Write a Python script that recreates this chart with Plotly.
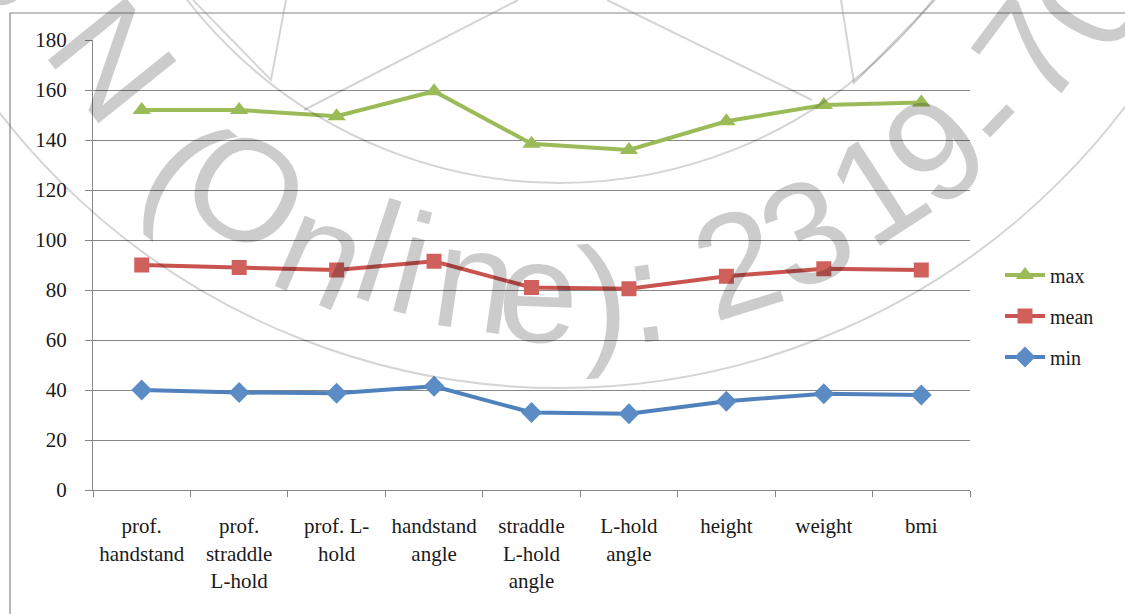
import math
import plotly.graph_objects as go

categories = ["prof.<br>handstand", "prof.<br>straddle<br>L-hold", "prof. L-<br>hold",
              "handstand<br>angle", "straddle<br>L-hold<br>angle", "L-hold<br>angle",
              "height", "weight", "bmi"]
max_vals = [152, 152, 149.5, 159.5, 138.5, 136, 147.5, 154, 155]
mean_vals = [90, 89, 88, 91.5, 81, 80.5, 85.5, 88.5, 88]
min_vals = [40, 39, 38.7, 41.5, 31, 30.5, 35.5, 38.5, 38]
y_ticks = [0, 20, 40, 60, 80, 100, 120, 140, 160, 180]

W, H = 1125, 614
L, R, T, B = 93, 155, 40, 124
PW, PH = W - L - R, H - T - B


def px(x):
    return (x - L) / PW


def py(y):
    return (H - B - y) / PH


fig = go.Figure()
fig.add_trace(go.Scatter(x=categories, y=max_vals, name="max", mode="lines+markers",
                         line=dict(color="#9BBB59", width=4), legendgroup="a",
                         marker=dict(symbol="triangle-up", size=16, color="#9BBB59")))
fig.add_trace(go.Scatter(x=categories, y=mean_vals, name="mean", mode="lines+markers",
                         line=dict(color="#C9534F", width=4), legendgroup="b",
                         marker=dict(symbol="square", size=15, color="#D0605C")))
fig.add_trace(go.Scatter(x=categories, y=min_vals, name="min", mode="lines+markers",
                         line=dict(color="#4F81BD", width=4), legendgroup="c",
                         marker=dict(symbol="diamond", size=16, color="#5B8CC6")))

axis_gray = "#868686"
font_serif = "Liberation Serif"

# watermark (seal) glyphs placed along an arc
wm_glyphs = ["S", "N", "(", "O", "n", "l", "i", "n", "e", ")", ":", "2", "3", "1", "9", "-", "7", "0"]
wm_pos = [(15, -45), (112, 60), (185, 165), (246, 190), (322, 252), (378, 252), (412, 264),
          (475, 280), (538, 292), (603, 298), (645, 292), (737, 263), (806, 233), (877, 188),
          (935, 150), (990, 113), (1030, 52), (1090, 0)]
cx, cy = 560, -300
wm_color = "rgba(0,0,0,0.2)"
annotations = []
for g, (x, y) in zip(wm_glyphs, wm_pos):
    ang = math.degrees(math.atan2(x - cx, y - cy))
    annotations.append(dict(x=px(x), y=py(y), xref="paper", yref="paper", text=g,
                            showarrow=False, textangle=-ang, xanchor="center", yanchor="middle",
                            font=dict(family="Liberation Sans", size=145, color=wm_color)))

shapes = []
# seal circles
for (ccx, ccy, r) in [(560, -320, 708), (560, -288, 471)]:
    shapes.append(dict(type="circle", xref="paper", yref="paper",
                       x0=px(ccx - r), x1=px(ccx + r), y0=py(ccy + r), y1=py(ccy - r),
                       line=dict(color="rgba(0,0,0,0.17)", width=2)))
# star lines
for pts in [[(193, 0), (271, 80), (286, 0)], [(841, 0), (854, 83), (935, 0)],
            [(304, 110), (518, 0)], [(607, 0), (812, 100)]]:
    path = "M " + " L ".join(f"{px(a)},{py(b)}" for a, b in pts)
    shapes.append(dict(type="path", xref="paper", yref="paper", path=path,
                       line=dict(color="rgba(0,0,0,0.17)", width=2)))
# chart outer border
shapes.append(dict(type="path", xref="paper", yref="paper",
                   path=f"M {px(10)},{py(H + 20)} L {px(10)},{py(13)} L {px(W + 20)},{py(13)}",
                   line=dict(color=axis_gray, width=1.2)))

fig.update_layout(
    width=W, height=H,
    margin=dict(l=L, r=R, t=T, b=B),
    paper_bgcolor="white", plot_bgcolor="white",
    font=dict(family=font_serif, size=20, color="#1a1a1a"),
    showlegend=True,
    legend=dict(x=px(1000), y=py(316), xanchor="left", yanchor="middle",
                font=dict(family=font_serif, size=20, color="#1a1a1a"),
                tracegroupgap=12, bgcolor="rgba(0,0,0,0)", itemwidth=40),
    xaxis=dict(type="category", range=[-0.5, 8.5], showgrid=False, showline=True,
               linecolor=axis_gray, linewidth=1.2, ticks="outside", tickson="boundaries",
               ticklen=6, tickcolor=axis_gray, ticklabelstandoff=17,
               tickfont=dict(family=font_serif, size=21, color="#1a1a1a"), fixedrange=True),
    yaxis=dict(range=[0, 180], tickvals=y_ticks, showgrid=True, gridcolor=axis_gray,
               gridwidth=1, showline=True, linecolor=axis_gray, linewidth=1.2, zeroline=False,
               ticks="outside", ticklen=7, tickcolor=axis_gray, ticklabelstandoff=14,
               tickfont=dict(family=font_serif, size=21, color="#1a1a1a"), fixedrange=True),
    annotations=annotations,
    shapes=shapes,
)

fig.write_html("out.html")
